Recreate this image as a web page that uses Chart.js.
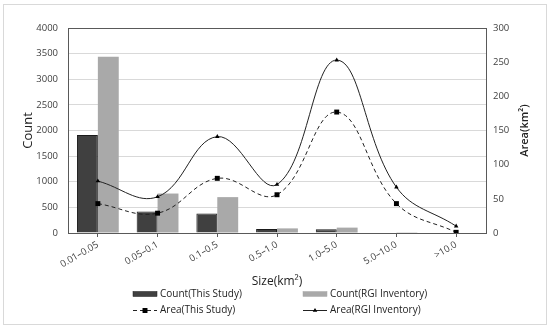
<!DOCTYPE html>
<html>
<head>
<meta charset="utf-8">
<script src="https://cdn.jsdelivr.net/npm/chart.js@4/dist/chart.umd.min.js"></script>
<style>
  html, body { margin: 0; padding: 0; background: #fff; }
  #wrap { width: 550px; height: 329px; position: relative; }
</style>
</head>
<body>
<div id="wrap"><canvas id="chart" width="550" height="329"></canvas></div>
<script>
// categories (glacier size classes)
const sizeClasses = ['0.01–0.05', '0.05–0.1', '0.1–0.5', '0.5–1.0', '1.0–5.0', '5.0–10.0', '>10.0'];

// counts per class
const countThisStudy = [1910, 420, 380, 80, 75, 8, 0];
const countRGI = [3440, 770, 700, 90, 105, 4, 0];

// area per class (km2)
const areaThisStudy = [43, 29, 80, 56, 177, 43, 1];
const areaRGI = [76, 53, 141, 71, 253, 67, 10];

// axis ranges
const countMax = 4000, countStep = 500;
const areaMax = 300, areaStep = 50;

const FONT = '"Open Sans", "Liberation Sans", sans-serif';
const TXT = '#404040';
const rightTitle = 'Area(km²)';

// frame around the whole figure + box around the plot area
const framePlugin = {
    id: 'frame',
    beforeDraw(chart) {
        const ctx = chart.ctx;
        ctx.save();
        ctx.fillStyle = '#fff';
        ctx.fillRect(0, 0, chart.width, chart.height);
        ctx.strokeStyle = '#d9d9d9';
        ctx.lineWidth = 1;
        ctx.strokeRect(3.5, 4.5, chart.width - 7, chart.height - 9);
        ctx.restore();
    },
    beforeDatasetsDraw(chart) {
        const { ctx, chartArea: a } = chart;
        ctx.save();
        ctx.strokeStyle = '#595959';
        ctx.lineWidth = 1;
        ctx.strokeRect(Math.round(a.left) + 0.5, Math.round(a.top) + 0.5,
            Math.round(a.right - a.left), Math.round(a.bottom - a.top));
        ctx.restore();
    },
    afterDraw(chart) {
        // right axis title reads bottom-to-top like the left one
        const { ctx, chartArea: a } = chart;
        ctx.save();
        ctx.translate(525, (a.top + a.bottom) / 2);
        ctx.rotate(-Math.PI / 2);
        ctx.font = '600 11px ' + FONT;
        ctx.fillStyle = '#222';
        ctx.textAlign = 'center';
        ctx.textBaseline = 'middle';
        ctx.fillText(rightTitle, 0, 0);
        ctx.restore();
    }
};

// two-column legend under the x title
const legendPlugin = {
    id: 'gridLegend',
    afterDraw(chart) {
        const ctx = chart.ctx;
        const cols = [133, 303];
        const rows = [294, 310];
        ctx.save();
        ctx.font = '10px ' + FONT;
        ctx.textBaseline = 'middle';
        chart.data.datasets.forEach((ds, i) => {
            const x = cols[i % 2];
            const y = rows[Math.floor(i / 2)];
            if (ds.type === 'bar') {
                ctx.fillStyle = ds.backgroundColor;
                ctx.fillRect(x, y - 2.5, 24, 5);
                ctx.strokeStyle = ds.borderColor;
                ctx.lineWidth = 0.5;
                ctx.strokeRect(x, y - 2.5, 24, 5);
            } else {
                ctx.strokeStyle = ds.borderColor;
                ctx.lineWidth = 1;
                ctx.setLineDash(ds.borderDash || []);
                ctx.beginPath();
                ctx.moveTo(x, y + 0.5);
                ctx.lineTo(x + 24, y + 0.5);
                ctx.stroke();
                ctx.setLineDash([]);
                ctx.fillStyle = ds.pointBackgroundColor;
                Chart.helpers.drawPoint(ctx, {
                    pointStyle: ds.pointStyle, radius: ds.pointRadius,
                    borderWidth: 0
                }, x + 12, y + 0.5);
            }
            ctx.fillStyle = '#222';
            ctx.fillText(ds.label, x + 27, y);
        });
        ctx.restore();
    }
};

const ctx = document.getElementById('chart').getContext('2d');
new Chart(ctx, {
    data: {
        labels: sizeClasses,
        datasets: [
            {
                type: 'bar',
                label: 'Count(This Study)',
                data: countThisStudy,
                yAxisID: 'y',
                backgroundColor: '#404040',
                borderColor: '#1a1a1a',
                borderWidth: 1,
                categoryPercentage: 0.7,
                barPercentage: 1.0,
                order: 2
            },
            {
                type: 'bar',
                label: 'Count(RGI Inventory)',
                data: countRGI,
                yAxisID: 'y',
                backgroundColor: '#a9a9a9',
                borderColor: '#a9a9a9',
                borderWidth: 0,
                categoryPercentage: 0.7,
                barPercentage: 1.0,
                order: 2
            },
            {
                type: 'line',
                label: 'Area(This Study)',
                data: areaThisStudy,
                yAxisID: 'y1',
                borderColor: '#222',
                borderWidth: 1,
                borderDash: [4, 3],
                tension: 0.4,
                pointStyle: 'rect',
                pointRadius: 3.5,
                pointBackgroundColor: '#000',
                pointBorderColor: '#000',
                pointBorderWidth: 0,
                fill: false,
                order: 1
            },
            {
                type: 'line',
                label: 'Area(RGI Inventory)',
                data: areaRGI,
                yAxisID: 'y1',
                borderColor: '#222',
                borderWidth: 1,
                tension: 0.4,
                pointStyle: 'triangle',
                pointRadius: 2.6,
                pointBackgroundColor: '#000',
                pointBorderColor: '#000',
                pointBorderWidth: 0,
                fill: false,
                order: 0
            }
        ]
    },
    options: {
        responsive: false,
        animation: false,
        layout: { padding: { top: 28, left: 0, right: 0, bottom: 39 } },
        plugins: {
            legend: { display: false },
            tooltip: { enabled: false }
        },
        scales: {
            x: {
                offset: true,
                grid: {
                    offset: false,
                    drawOnChartArea: false,
                    drawTicks: true,
                    tickLength: 4,
                    color: '#595959'
                },
                border: { color: '#595959' },
                ticks: {
                    color: TXT,
                    font: { family: FONT, size: 9.5 },
                    minRotation: 30,
                    maxRotation: 30,
                    padding: 2,
                    autoSkip: false
                },
                title: {
                    display: true,
                    text: 'Size(km²)',
                    color: '#222',
                    font: { family: FONT, size: 12 },
                    padding: { top: 0, bottom: 1 }
                },
                afterFit(scale) { scale.height = 57; }
            },
            y: {
                position: 'left',
                min: 0,
                max: countMax,
                grid: { color: '#d9d9d9', drawTicks: false },
                border: { display: false },
                ticks: {
                    stepSize: countStep,
                    color: TXT,
                    font: { family: FONT, size: 9.5 },
                    padding: 10,
                    callback: v => String(v)
                },
                title: {
                    display: true,
                    text: 'Count',
                    color: '#222',
                    font: { family: FONT, size: 13 },
                    padding: { top: 20, bottom: 0 }
                },
                afterFit(scale) { scale.width = 68; }
            },
            y1: {
                position: 'right',
                min: 0,
                max: areaMax,
                grid: { drawOnChartArea: false, drawTicks: false },
                border: { display: false },
                ticks: {
                    stepSize: areaStep,
                    color: TXT,
                    font: { family: FONT, size: 9.5 },
                    padding: 7,
                    callback: v => String(v)
                },
                afterFit(scale) { scale.width = 64; }
            }
        }
    },
    plugins: [framePlugin, legendPlugin]
});
</script>
</body>
</html>
